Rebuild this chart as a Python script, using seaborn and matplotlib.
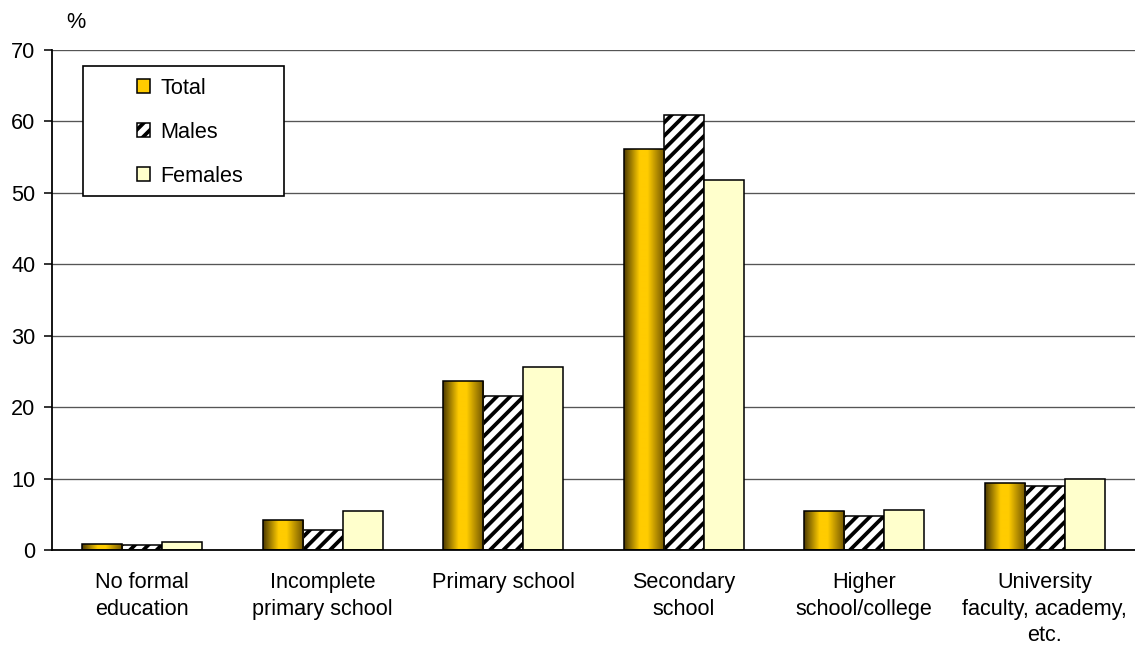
import numpy as np
import pandas as pd
import matplotlib
matplotlib.use("Agg")
import matplotlib.pyplot as plt
import seaborn as sns
from matplotlib.colors import LinearSegmentedColormap
from matplotlib.patches import Rectangle, Patch

# data
categories = ["No formal\neducation", "Incomplete\nprimary school", "Primary school",
              "Secondary\nschool", "Higher\nschool/college",
              "University\nfaculty, academy,\netc."]
groups = ["Total", "Males", "Females"]
total = [0.8, 4.2, 23.6, 56.2, 5.4, 9.4]
males = [0.7, 2.8, 21.6, 60.9, 4.8, 8.9]
females = [1.1, 5.4, 25.6, 51.8, 5.6, 10.0]

df = pd.DataFrame({
    "category": categories * 3,
    "group": [g for g in groups for _ in categories],
    "value": total + males + females,
})

sns.set_style("white")
plt.rcParams["font.family"] = ["Liberation Sans", "DejaVu Sans"]
plt.rcParams["text.color"] = "black"
plt.rcParams["xtick.color"] = "black"
plt.rcParams["ytick.color"] = "black"
plt.rcParams["hatch.linewidth"] = 3.4
plt.rcParams["hatch.color"] = "black"

FS = 19.5
DPI = 80
fig = plt.figure(figsize=(1135 / DPI, 654 / DPI), dpi=DPI)
ax = fig.add_axes([52 / 1135, 1 - 550 / 654, 1 - 52 / 1135, 500 / 654])

colors = ["#FFCC00", "white", "#FFFFCC"]
sns.barplot(data=df, x="category", y="value", hue="group", order=categories,
            hue_order=groups, palette=colors,
            width=0.665, edgecolor="black", linewidth=1.4, saturation=1,
            ax=ax, legend=False)

for bar in ax.containers[1]:
    bar.set_hatch("//")

# gold gradient on the Total bars
gold = LinearSegmentedColormap.from_list(
    "gold", [(0, "#4e3b00"), (0.38, "#ffcc00"), (0.58, "#ffcc00"), (1, "#6e5300")])
grad = np.linspace(0, 1, 128).reshape(1, -1)
for bar in ax.containers[0]:
    x, y = bar.get_xy()
    w, h = bar.get_width(), bar.get_height()
    im = ax.imshow(grad, cmap=gold, extent=(x, x + w, y, y + h), aspect="auto",
                   interpolation="bilinear", zorder=2.5)
    im.set_clip_path(bar)
    bar.set_facecolor("none")
    bar.set_zorder(3)

ax.set_xlim(-0.5, 5.5)
ax.set_ylim(0, 70)
ax.set_yticks(range(0, 71, 10))
ax.set_xticks(range(6))
ax.set_xticks(np.arange(-0.5, 6, 1), minor=True)
ax.set_xticklabels(categories, fontsize=FS, linespacing=1.35, va="top")
ax.tick_params(axis="x", which="major", length=0, pad=20)
ax.tick_params(axis="x", which="minor", length=6, width=1.4, color="black", direction="out")
ax.tick_params(axis="y", length=7, width=1.4, color="black", direction="out",
               labelsize=FS, pad=8, left=True)
ax.set_xlabel("")
ax.set_ylabel("")
ax.grid(axis="y", color="#555555", linewidth=1.2)
ax.set_axisbelow(True)
for s in ["top", "right"]:
    ax.spines[s].set_visible(False)
for s in ["left", "bottom"]:
    ax.spines[s].set_color("black")
    ax.spines[s].set_linewidth(1.6)

# legend box
ax.add_patch(Rectangle((31 / 1083, 354 / 500), 201 / 1083, 130 / 500,
                       transform=ax.transAxes, facecolor="white", edgecolor="black",
                       linewidth=1.5, zorder=4, clip_on=False))
handles = [Patch(facecolor=colors[0], edgecolor="black", linewidth=1.4),
           Patch(facecolor="white", edgecolor="black", linewidth=1.4, hatch="//"),
           Patch(facecolor=colors[2], edgecolor="black", linewidth=1.4)]
leg = ax.legend(handles, groups, loc="upper left", bbox_to_anchor=(85 / 1083, 0.944),
                frameon=False, fontsize=FS, handlelength=0.62, handleheight=0.62,
                handletextpad=0.45, labelspacing=1.05, borderpad=0, borderaxespad=0)
leg.set_zorder(5)

fig.text(76 / 1135, 1 - 23 / 654, "%", ha="center", va="center", fontsize=FS)

fig.savefig("out.png", dpi=DPI)
